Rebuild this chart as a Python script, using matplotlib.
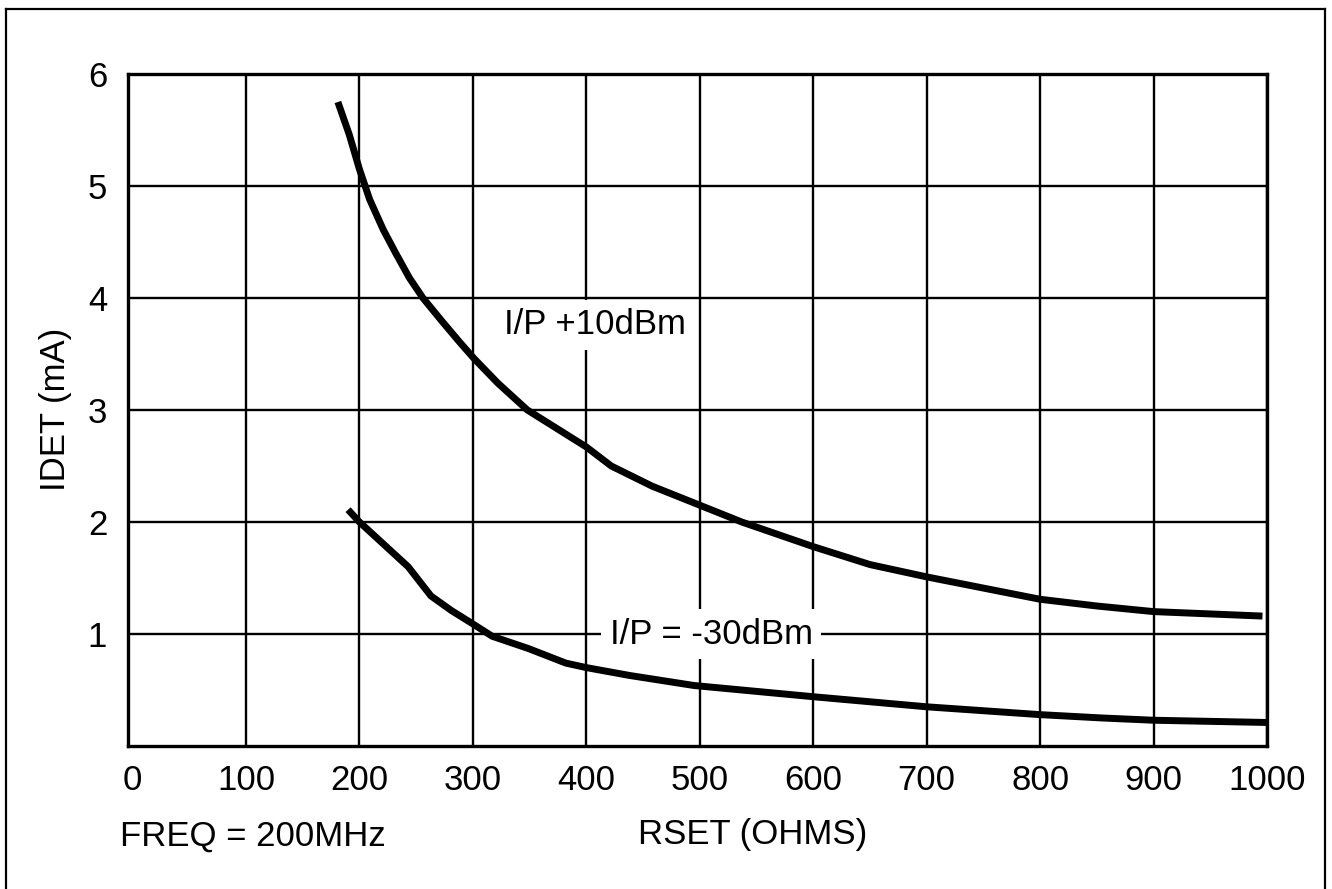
import matplotlib
matplotlib.use("Agg")
import matplotlib.pyplot as plt
from matplotlib.lines import Line2D

# values
rset_hi = [181, 191, 200, 209, 221, 232, 244, 256, 273, 288, 301, 322, 348, 400, 422, 458, 500,
           537, 600, 650, 700, 800, 850, 900, 996]
idet_hi = [5.75, 5.46, 5.15, 4.88, 4.61, 4.40, 4.18, 4.00, 3.79, 3.61, 3.46, 3.24, 3.00, 2.67, 2.50,
           2.32, 2.15, 2.00, 1.78, 1.62, 1.51, 1.31, 1.25, 1.20, 1.16]

rset_lo = [190, 200, 243, 263, 281, 300, 317, 349, 382, 400, 438, 495, 600, 700, 800, 855, 900, 1000]
idet_lo = [2.11, 2.00, 1.60, 1.34, 1.21, 1.09, 0.98, 0.87, 0.74, 0.70, 0.63, 0.54, 0.44, 0.35, 0.28,
           0.25, 0.23, 0.21]

x_ticks = list(range(0, 1001, 100))
y_ticks = [1, 2, 3, 4, 5, 6]

label_hi = "I/P +10dBm"
label_lo = "I/P = -30dBm"

plt.rcParams["font.family"] = ["Liberation Sans", "DejaVu Sans"]
FS = 25

W, H = 1332, 889
fig = plt.figure(figsize=(W / 100, H / 100), dpi=100)
ax = fig.add_axes([128 / W, 1 - 746 / H, (1267 - 128) / W, (746 - 74) / H])

ax.plot(rset_hi, idet_hi, color="black", lw=5, solid_capstyle="butt", zorder=4)
ax.plot(rset_lo, idet_lo, color="black", lw=5, solid_capstyle="butt", zorder=4)

ax.set_xlim(-4, 1000)
ax.set_ylim(0, 6)
ax.set_xticks(x_ticks)
ax.set_yticks(y_ticks)
ax.tick_params(length=0, labelsize=FS, colors="black")
ax.tick_params(axis="x", pad=13)
ax.tick_params(axis="y", pad=15)
ax.grid(True, color="black", lw=1.7)
ax.set_axisbelow(True)
# the left spine already stands in for the x=0 grid line
ax.get_xgridlines()[0].set_visible(False)
for sp in ax.spines.values():
    sp.set_linewidth(2.4)
    sp.set_zorder(5)

ax.set_xlabel("RSET (OHMS)", fontsize=FS)
ax.xaxis.set_label_coords(0.548, -0.132)
ax.xaxis.label.set_va("center")
ax.set_ylabel("IDET (mA)", fontsize=FS)
ax.yaxis.set_label_coords(-0.064, 0.501)
ax.yaxis.label.set_va("center")

ax.text(-0.007, -0.134, "FREQ = 200MHz", transform=ax.transAxes, fontsize=FS,
        ha="left", va="center")

box = dict(facecolor="white", edgecolor="none", pad=6)
ax.text(408, 3.76, label_hi, fontsize=FS, ha="center", va="center", bbox=box, zorder=3)
ax.text(510, 1.0, label_lo, fontsize=FS, ha="center", va="center", bbox=box, zorder=3)

# open-bottom frame around the figure
fx0, fx1, fy = 6 / W, 1325 / W, 1 - 9 / H
for xs, ys in [([fx0, fx0], [0, fy]), ([fx0, fx1], [fy, fy]), ([fx1, fx1], [fy, 0])]:
    fig.add_artist(Line2D(xs, ys, transform=fig.transFigure, color="black", lw=1.6))

fig.savefig("out.png", dpi=100)
